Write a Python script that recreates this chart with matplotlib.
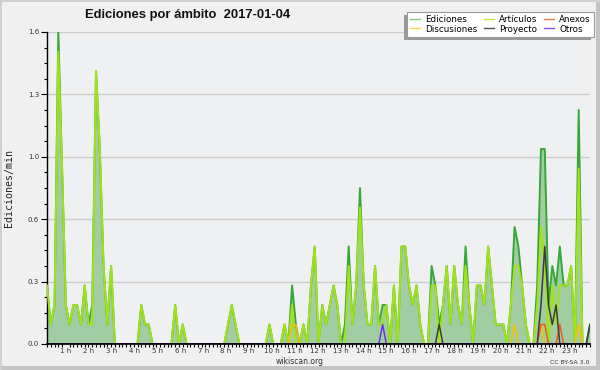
import numpy as np
import matplotlib
matplotlib.use("Agg")
import matplotlib.pyplot as plt
from matplotlib.lines import Line2D
from matplotlib.patches import Rectangle

# ten-minute bins, 00:00 .. 24:00
ediciones = [
    0.3, 0.1, 0.2, 1.6, 0.9, 0.2,
    0.1, 0.2, 0.2, 0.1, 0.3, 0.1,
    0.2, 1.4, 1.0, 0.4, 0.1, 0.4,
    0, 0, 0, 0, 0, 0,
    0, 0.2, 0.1, 0.1, 0, 0,
    0, 0, 0, 0, 0.2, 0,
    0.1, 0, 0, 0, 0, 0,
    0, 0, 0, 0, 0, 0,
    0.1, 0.2, 0.1, 0, 0, 0,
    0, 0, 0, 0, 0, 0.1,
    0, 0, 0, 0.1, 0, 0.3,
    0.1, 0, 0.1, 0, 0.3, 0.5,
    0, 0.2, 0.1, 0.2, 0.3, 0.2,
    0, 0.1, 0.5, 0.1, 0.3, 0.8,
    0.3, 0.1, 0.1, 0.4, 0.1, 0.2,
    0.2, 0, 0.3, 0, 0.5, 0.5,
    0.3, 0.2, 0.3, 0.1, 0, 0,
    0.4, 0.3, 0.1, 0.2, 0.4, 0.1,
    0.4, 0.2, 0.1, 0.5, 0.2, 0,
    0.3, 0.3, 0.2, 0.5, 0.3, 0.1,
    0.1, 0.1, 0, 0.2, 0.6, 0.5,
    0.3, 0.1, 0, 0, 0.3, 1.0,
    1.0, 0.2, 0.4, 0.3, 0.5, 0.3,
    0.3, 0.4, 0, 1.2, 0, 0,
    0.1,
]
articulos = [
    0.3, 0.1, 0.2, 1.5, 0.9, 0.2,
    0.1, 0.2, 0.2, 0.1, 0.3, 0.1,
    0.1, 1.4, 1.0, 0.4, 0.1, 0.4,
    0, 0, 0, 0, 0, 0,
    0, 0.2, 0.1, 0.1, 0, 0,
    0, 0, 0, 0, 0.2, 0,
    0.1, 0, 0, 0, 0, 0,
    0, 0, 0, 0, 0, 0,
    0.1, 0.2, 0.1, 0, 0, 0,
    0, 0, 0, 0, 0, 0.1,
    0, 0, 0, 0.1, 0, 0.2,
    0, 0, 0.1, 0, 0.3, 0.5,
    0, 0.2, 0.1, 0.2, 0.3, 0.2,
    0, 0, 0.4, 0.1, 0.3, 0.7,
    0.3, 0.1, 0.1, 0.4, 0.1, 0.1,
    0.2, 0, 0.3, 0, 0.5, 0.5,
    0.3, 0.2, 0.3, 0.1, 0, 0,
    0.3, 0.3, 0, 0.2, 0.4, 0.1,
    0.4, 0.2, 0.1, 0.4, 0.2, 0,
    0.3, 0.3, 0.2, 0.5, 0.3, 0.1,
    0.1, 0.1, 0, 0.2, 0.4, 0.4,
    0.3, 0.1, 0, 0, 0.2, 0.6,
    0.4, 0, 0.3, 0.1, 0.3, 0.3,
    0.3, 0.4, 0, 0.9, 0, 0,
    0,
]
# the small series only have a few non zero bins
discusiones_pts = {65: 0.1, 66: 0.1, 124: 0.1, 131: 0.1, 141: 0.1}
anexos_pts = {131: 0.1, 132: 0.1, 136: 0.1}
proyecto_pts = {104: 0.1, 131: 0.2, 132: 0.5, 133: 0.2, 134: 0.1, 135: 0.2, 144: 0.1}
otros_pts = {89: 0.1}

horas = ["%d h" % h for h in range(1, 24)]
yticks = [0, 0.32, 0.64, 0.96, 1.28, 1.6]
yticklabels = ["0.0", "0.3", "0.6", "1.0", "1.3", "1.6"]

n = len(ediciones)
x = np.arange(n)

def serie(pts):
    s = np.zeros(n)
    for k, v in pts.items():
        s[k] = v
    return s

discusiones = serie(discusiones_pts)
anexos = serie(anexos_pts)
proyecto = serie(proyecto_pts)
otros = serie(otros_pts)

fig = plt.figure(figsize=(6, 3.7), dpi=100, facecolor="#f0f0f0")
ax = fig.add_axes([47/600, 26/370, 543/600, 312/370])
ax.set_facecolor("#eef0f2")

ax.fill_between(x, 0, ediciones, color="#a2cda2", lw=0, zorder=1)
ax.plot(x, ediciones, color="#36a836", lw=1.4, zorder=2)
ax.plot(x, articulos, color="#a2e21a", lw=1.4, zorder=3)
ax.plot(x, discusiones, color="#f2c200", lw=1.1, zorder=4)
ax.plot(x, anexos, color="#f05a1e", lw=1.1, zorder=4)
ax.plot(x, proyecto, color="#3c3c3c", lw=1.1, zorder=4)
ax.plot(x, otros, color="#7030e0", lw=1.1, zorder=4)

ax.set_xlim(0, n - 1)
ax.set_ylim(0, 1.6)

for s in ["top", "right"]:
    ax.spines[s].set_visible(False)
ax.spines["bottom"].set_linewidth(1.2)
ax.spines["left"].set_linewidth(1.0)
ax.spines["bottom"].set_zorder(6)

ax.set_yticks(yticks)
ax.set_yticklabels(yticklabels)
ax.set_yticks(np.arange(0, 1.61, 0.08), minor=True)
ax.yaxis.grid(True, color="#cccccc", lw=1)
ax.set_axisbelow(True)
ax.tick_params(axis="y", which="major", length=4.3, width=0.8, pad=1.4,
               labelsize=5, labelcolor="#333333")
ax.tick_params(axis="y", which="minor", length=2.2, width=0.8)

ax.set_xticks(np.arange(0, n), minor=True)
ax.set_xticks([6.07 * h - 1.07 for h in range(1, 24)])
ax.set_xticklabels(horas)
ax.tick_params(axis="x", which="minor", length=2.3, width=0.8)
ax.tick_params(axis="x", which="major", length=0, pad=3.0,
               labelsize=5, labelcolor="#333333")

fig.text(188/600, 1 - 15/370, "Ediciones por ámbito  2017-01-04",
         family="Liberation Sans", weight="bold", fontsize=9.4,
         ha="center", va="center", color="#111111")
fig.text(9/600, 1 - 188/370, "Ediciones/min", rotation=90,
         family="DejaVu Sans Mono", fontsize=7.2, ha="center", va="center",
         color="#222222")
fig.text(300/600, 1 - 361/370, "wikiscan.org", fontsize=5.5,
         ha="center", va="center", color="#333333")
fig.text(589/600, 1 - 362.5/370, "CC BY-SA 3.0", fontsize=4.4,
         ha="right", va="center", color="#333333")

handles = [
    Line2D([], [], color="#7fcc7f", lw=1),
    Line2D([], [], color="#ffd24a", lw=1),
    Line2D([], [], color="#c8ec40", lw=1),
    Line2D([], [], color="#555555", lw=1),
    Line2D([], [], color="#ee7a4a", lw=1),
    Line2D([], [], color="#8a4ef0", lw=1),
]
labels = ["Ediciones", "Discusiones", "Artículos", "Proyecto", "Anexos", "Otros"]
leg = fig.legend(handles, labels, ncol=3, loc="upper right",
                 bbox_to_anchor=(594/600, 1 - 12/370), fontsize=6.3,
                 frameon=True, fancybox=False, edgecolor="#999999",
                 facecolor="white", framealpha=1, handlelength=1.1,
                 handletextpad=0.6, columnspacing=0.8, labelspacing=0.05,
                 borderpad=0.35, borderaxespad=0)
leg.get_frame().set_linewidth(0.8)

fig.canvas.draw()
bb = leg.get_window_extent()
fig.patches.append(Rectangle((bb.x0 - 3, bb.y0 - 3), bb.width, bb.height,
                             transform=None, facecolor="#9a9a9a",
                             edgecolor="none", zorder=4.9))

# image frame
fig.patches.append(Rectangle((0, 0), 1, 4/370, transform=fig.transFigure,
                             facecolor="#c4c4c4", edgecolor="none", zorder=10))
fig.patches.append(Rectangle((596/600, 0), 4/600, 1, transform=fig.transFigure,
                             facecolor="#c4c4c4", edgecolor="none", zorder=10))
fig.patches.append(Rectangle((0, 0), 2/600, 1, transform=fig.transFigure,
                             facecolor="#d0d0d0", edgecolor="none", zorder=10))
fig.patches.append(Rectangle((0, 1 - 2/370), 1, 2/370, transform=fig.transFigure,
                             facecolor="#d0d0d0", edgecolor="none", zorder=10))

fig.savefig("out.png", dpi=100, facecolor=fig.get_facecolor())
